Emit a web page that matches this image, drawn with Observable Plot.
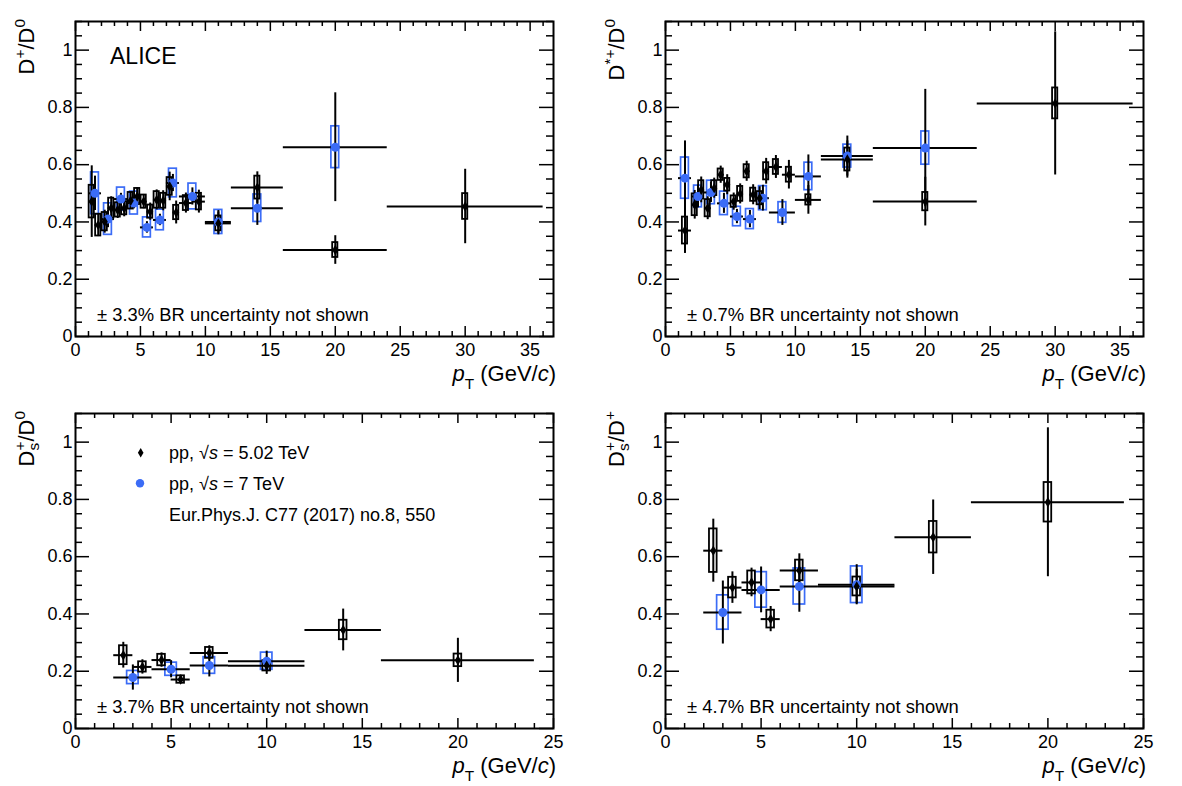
<!DOCTYPE html>
<html>
<head>
<meta charset="utf-8">
<script src="https://cdn.jsdelivr.net/npm/d3@7"></script>
<script src="https://cdn.jsdelivr.net/npm/@observablehq/plot@0.6"></script>
<style>
  body { margin: 0; background: #fff; }
  #fig { position: relative; width: 1182px; height: 786px; background: #fff; overflow: hidden; }
  #fig svg { position: absolute; overflow: visible; }
</style>
</head>
<body>
<div id="fig"></div>
<script>
// ---------- D+/D0 ----------
const dpLo502   = [1, 1.5, 2, 2.5, 3, 3.5, 4, 4.5, 5, 5.5, 6, 6.5, 7, 7.5, 8, 9, 10, 12, 16, 24];
const dpHi502   = [1.5, 2, 2.5, 3, 3.5, 4, 4.5, 5, 5.5, 6, 6.5, 7, 7.5, 8, 9, 10, 12, 16, 24, 36];
const dpVal502  = [0.471, 0.389, 0.401, 0.448, 0.442, 0.448, 0.474, 0.489, 0.471, 0.436, 0.477, 0.474, 0.524, 0.433, 0.466, 0.471, 0.395, 0.520, 0.302, 0.454];
const dpStat502 = [0.125, 0.040, 0.040, 0.040, 0.030, 0.030, 0.030, 0.030, 0.025, 0.030, 0.035, 0.035, 0.050, 0.040, 0.035, 0.040, 0.040, 0.055, 0.050, 0.130];
const dpSyst502 = [0.057, 0.038, 0.032, 0.035, 0.025, 0.023, 0.029, 0.028, 0.023, 0.023, 0.029, 0.026, 0.031, 0.025, 0.026, 0.029, 0.026, 0.040, 0.026, 0.045];

const dpLo7   = [1, 2, 3, 4, 5, 6, 7, 8, 10, 12, 16];
const dpHi7   = [2, 3, 4, 5, 6, 7, 8, 10, 12, 16, 24];
const dpVal7  = [0.500, 0.410, 0.480, 0.466, 0.381, 0.407, 0.536, 0.489, 0.400, 0.448, 0.661];
const dpStat7 = [0.060, 0.030, 0.020, 0.020, 0.020, 0.020, 0.030, 0.030, 0.040, 0.060, 0.190];
const dpSyst7 = [0.073, 0.055, 0.040, 0.040, 0.035, 0.036, 0.050, 0.045, 0.042, 0.048, 0.073];

// ---------- D*+/D0 ----------
const dstLo502   = [1, 2, 2.5, 3, 3.5, 4, 4.5, 5, 5.5, 6, 6.5, 7, 7.5, 8, 9, 10, 12, 16, 24];
const dstHi502   = [2, 2.5, 3, 3.5, 4, 4.5, 5, 5.5, 6, 6.5, 7, 7.5, 8, 9, 10, 12, 16, 24, 36];
const dstVal502  = [0.370, 0.460, 0.512, 0.448, 0.518, 0.565, 0.530, 0.471, 0.498, 0.577, 0.495, 0.483, 0.577, 0.592, 0.565, 0.477, 0.618, 0.471, 0.814];
const dstStat502 = [0.080, 0.050, 0.045, 0.040, 0.035, 0.030, 0.035, 0.030, 0.035, 0.035, 0.035, 0.040, 0.045, 0.040, 0.050, 0.050, 0.065, 0.085, 0.250];
const dstSyst502 = [0.047, 0.038, 0.032, 0.030, 0.026, 0.020, 0.022, 0.020, 0.026, 0.023, 0.023, 0.023, 0.030, 0.026, 0.026, 0.018, 0.040, 0.032, 0.054];

const dstLo7   = [1, 2, 3, 4, 5, 6, 7, 8, 10, 12, 16];
const dstHi7   = [2, 3, 4, 5, 6, 7, 8, 10, 12, 16, 24];
const dstVal7  = [0.553, 0.489, 0.503, 0.465, 0.419, 0.410, 0.483, 0.433, 0.559, 0.630, 0.658];
const dstStat7 = [0.130, 0.040, 0.035, 0.035, 0.025, 0.030, 0.045, 0.045, 0.075, 0.070, 0.205];
const dstSyst7 = [0.072, 0.038, 0.041, 0.041, 0.034, 0.035, 0.042, 0.036, 0.048, 0.040, 0.058];

// ---------- Ds+/D0 and Ds+/D+ ----------
const dsLo502 = [2, 3, 4, 5, 6, 8, 12, 16];
const dsHi502 = [3, 4, 5, 6, 8, 12, 16, 24];
const dsD0Val502  = [0.256, 0.215, 0.239, 0.171, 0.264, 0.219, 0.344, 0.238];
const dsD0Stat502 = [0.045, 0.025, 0.025, 0.015, 0.025, 0.030, 0.073, 0.077];
const dsD0Syst502 = [0.033, 0.018, 0.020, 0.013, 0.019, 0.018, 0.034, 0.022];

const dsLo7 = [2, 4, 6, 8];
const dsHi7 = [4, 6, 8, 12];
const dsD0Val7  = [0.178, 0.207, 0.220, 0.235];
const dsD0Stat7 = [0.044, 0.030, 0.040, 0.035];
const dsD0Syst7 = [0.023, 0.023, 0.029, 0.030];

const dsDpVal502  = [0.621, 0.492, 0.510, 0.382, 0.552, 0.496, 0.668, 0.790];
const dsDpStat502 = [0.110, 0.055, 0.050, 0.044, 0.058, 0.060, 0.130, 0.260];
const dsDpSyst502 = [0.076, 0.036, 0.040, 0.031, 0.036, 0.033, 0.055, 0.069];

const dsDpVal7  = [0.405, 0.484, 0.496, 0.502];
const dsDpStat7 = [0.110, 0.080, 0.090, 0.070];
const dsDpSyst7 = [0.060, 0.062, 0.063, 0.064];

// ---------- axes ----------
const xTicksWide   = [0, 5, 10, 15, 20, 25, 30, 35];
const xTicksNarrow = [0, 5, 10, 15, 20, 25];
const yTicks       = [0, 0.2, 0.4, 0.6, 0.8, 1];

const brNotes = ["± 3.3% BR uncertainty not shown", "± 0.7% BR uncertainty not shown",
                 "± 3.7% BR uncertainty not shown", "± 4.7% BR uncertainty not shown"];
const legendLabels = ["5.02 TeV", "7 TeV"];
const legendRef = "Eur.Phys.J. C77 (2017) no.8, 550";

// ---------- drawing ----------
const FONT = "'Liberation Sans', Arial, Helvetica, sans-serif";
const BLUE = "#3b6cf6";
const W = 591, H = 393, ML = 75, MR = 38;

const rows = (lo, hi, v, st, sy) =>
  lo.map((l, i) => ({lo: l, hi: hi[i], pt: (l + hi[i]) / 2, v: v[i], stat: st[i], sys: sy[i]}));

// narrow, tall filled diamond used for the 5.02 TeV points
const thinDiamond = {
  draw(ctx) {
    ctx.moveTo(0, -5.2); ctx.lineTo(3.1, 0); ctx.lineTo(0, 5.2); ctx.lineTo(-3.1, 0); ctx.closePath();
  }
};

function plainText(sel, x, y, s, size) {
  return sel.append("text").attr("x", x).attr("y", y)
    .attr("text-anchor", "start").attr("font-family", FONT)
    .attr("font-size", size).attr("fill", "black").style("white-space", "pre").text(s);
}

function richText(sel, x, y, parts, size, {anchor = "start", rotate = false} = {}) {
  const g = sel.append("g")
    .attr("transform", rotate ? `translate(${x},${y}) rotate(-90)` : `translate(${x},${y})`);
  const t = g.append("text")
    .attr("text-anchor", anchor)
    .attr("font-family", FONT)
    .attr("font-size", size)
    .attr("fill", "black")
    .style("white-space", "pre");
  let shift = 0;
  for (const [s, kind] of parts) {
    const ts = t.append("tspan").text(s);
    let target = 0, fs = size;
    if (kind === "sup" || kind === "supback") { target = -0.42 * size; fs = 0.7 * size; }
    if (kind === "sub") { target = 0.36 * size; fs = 0.7 * size; }
    if (kind === "lsub") { target = 0.22 * size; fs = 0.7 * size; }
    ts.attr("font-size", fs).attr("dy", target - shift);
    if (kind === "supback") ts.attr("dx", -0.5 * fs);
    if (kind === "it") ts.attr("font-style", "italic");
    shift = target;
  }
  return t;
}

function panel({left, top, mt, xMax, xTicks, s502, s7, yTitle, note}) {
  const mb = H - mt - 315;
  const fw = W - ML - MR, fh = H - mt - mb;
  const xMinor = d3.range(0, Math.floor(xMax) + 1).filter(d => d % 5 !== 0);
  const xMajor = xTicks;
  const yMinor = d3.range(0, 23).filter(i => i % 4 !== 0).map(i => i * 0.05);
  const tick = {stroke: "black", strokeWidth: 1.5};

  const svg = Plot.plot({
    width: W, height: H,
    marginLeft: ML, marginRight: MR, marginTop: mt, marginBottom: mb,
    x: {domain: [0, xMax]},
    y: {domain: [0, 1.1]},
    style: {fontFamily: FONT, background: "transparent", overflow: "visible"},
    marks: [
      // systematic boxes
      Plot.rect(s7, {x1: d => d.pt - 0.3, x2: d => d.pt + 0.3, y1: d => d.v - d.sys, y2: d => d.v + d.sys,
                     fill: "none", stroke: BLUE, strokeWidth: 1.7}),
      Plot.rect(s502, {x1: d => d.pt - 0.2, x2: d => d.pt + 0.2, y1: d => d.v - d.sys, y2: d => d.v + d.sys,
                       fill: "none", stroke: "black", strokeWidth: 1.8}),
      // bin widths and statistical errors
      Plot.ruleY(s7, {y: "v", x1: "lo", x2: "hi", stroke: "black", strokeWidth: 2}),
      Plot.ruleX(s7, {x: "pt", y1: d => d.v - d.stat, y2: d => d.v + d.stat, stroke: "black", strokeWidth: 2}),
      Plot.ruleY(s502, {y: "v", x1: "lo", x2: "hi", stroke: "black", strokeWidth: 2}),
      Plot.ruleX(s502, {x: "pt", y1: d => d.v - d.stat, y2: d => d.v + d.stat, stroke: "black", strokeWidth: 2}),
      // markers
      Plot.dot(s7, {x: "pt", y: "v", r: 4.5, fill: BLUE, stroke: "none"}),
      Plot.dot(s502, {x: "pt", y: "v", symbol: thinDiamond, r: 4, fill: "black", stroke: "none"}),
      // inward ticks on all four sides
      Plot.ruleX(xMinor, {x: d => d, insetTop: fh - 5, ...tick}),
      Plot.ruleX(xMinor, {x: d => d, insetBottom: fh - 5, ...tick}),
      Plot.ruleX(xMajor, {x: d => d, insetTop: fh - 10, ...tick}),
      Plot.ruleX(xMajor, {x: d => d, insetBottom: fh - 10, ...tick}),
      Plot.ruleY(yMinor, {y: d => d, insetRight: fw - 7, ...tick}),
      Plot.ruleY(yMinor, {y: d => d, insetLeft: fw - 7, ...tick}),
      Plot.ruleY(yTicks, {y: d => d, insetRight: fw - 14, ...tick}),
      Plot.ruleY(yTicks, {y: d => d, insetLeft: fw - 14, ...tick}),
      Plot.frame({stroke: "black", strokeWidth: 2}),
      Plot.axisX({ticks: xMajor, tickSize: 0, tickPadding: 7, tickFormat: d => String(d),
                  fontSize: 18, label: null}),
      Plot.axisY({ticks: yTicks, tickSize: 0, tickPadding: 3, tickFormat: d => String(d),
                  fontSize: 18, label: null})
    ]
  });
  svg.style.left = left + "px";
  svg.style.top = top + "px";
  document.getElementById("fig").appendChild(svg);

  const sel = d3.select(svg);
  richText(sel, 34, mt - 2, yTitle, 22, {anchor: "end", rotate: true});
  richText(sel, 556, mt + fh + 45,
           [["p", "it"], ["T", "sub"], [" (GeV/", ""], ["c", "it"], [")", ""]], 22, {anchor: "end"});
  plainText(sel, 97, mt + fh - 15, note, 18.4);
  return sel;
}

const p1 = panel({left: 0, top: 0, mt: 21, xMax: 36.8, xTicks: xTicksWide,
  s502: rows(dpLo502, dpHi502, dpVal502, dpStat502, dpSyst502),
  s7: rows(dpLo7, dpHi7, dpVal7, dpStat7, dpSyst7),
  yTitle: [["D", ""], ["+", "sup"], ["/D", ""], ["0", "sup"]], note: brNotes[0]});

panel({left: 590, top: 0, mt: 21, xMax: 36.8, xTicks: xTicksWide,
  s502: rows(dstLo502, dstHi502, dstVal502, dstStat502, dstSyst502),
  s7: rows(dstLo7, dstHi7, dstVal7, dstStat7, dstSyst7),
  yTitle: [["D", ""], ["*+", "sup"], ["/D", ""], ["0", "sup"]], note: brNotes[1]});

const p3 = panel({left: 0, top: 393, mt: 20, xMax: 25, xTicks: xTicksNarrow,
  s502: rows(dsLo502, dsHi502, dsD0Val502, dsD0Stat502, dsD0Syst502),
  s7: rows(dsLo7, dsHi7, dsD0Val7, dsD0Stat7, dsD0Syst7),
  yTitle: [["D", ""], ["s", "lsub"], ["+", "supback"], ["/D", ""], ["0", "sup"]], note: brNotes[2]});

panel({left: 590, top: 393, mt: 20, xMax: 25, xTicks: xTicksNarrow,
  s502: rows(dsLo502, dsHi502, dsDpVal502, dsDpStat502, dsDpSyst502),
  s7: rows(dsLo7, dsHi7, dsDpVal7, dsDpStat7, dsDpSyst7),
  yTitle: [["D", ""], ["s", "lsub"], ["+", "supback"], ["/D", ""], ["+", "sup"]], note: brNotes[3]});

// experiment label
plainText(p1, 110, 64, "ALICE", 23);

// legend in the lower-left panel
const lg = p3.append("g");
lg.append("path").attr("d", "M140.7,54.9L143.5,59.7L140.7,64.5L137.9,59.7Z").attr("fill", "black");
lg.append("circle").attr("cx", 140).attr("cy", 90.3).attr("r", 4.2).attr("fill", BLUE);
legendLabels.forEach((lab, i) => {
  richText(lg, 169, 66 + 31 * i, [["pp, ", ""], ["√", ""], ["s", "it"], [" = " + lab, ""]], 18);
});
plainText(lg, 169, 128, legendRef, 18);
</script>
</body>
</html>
